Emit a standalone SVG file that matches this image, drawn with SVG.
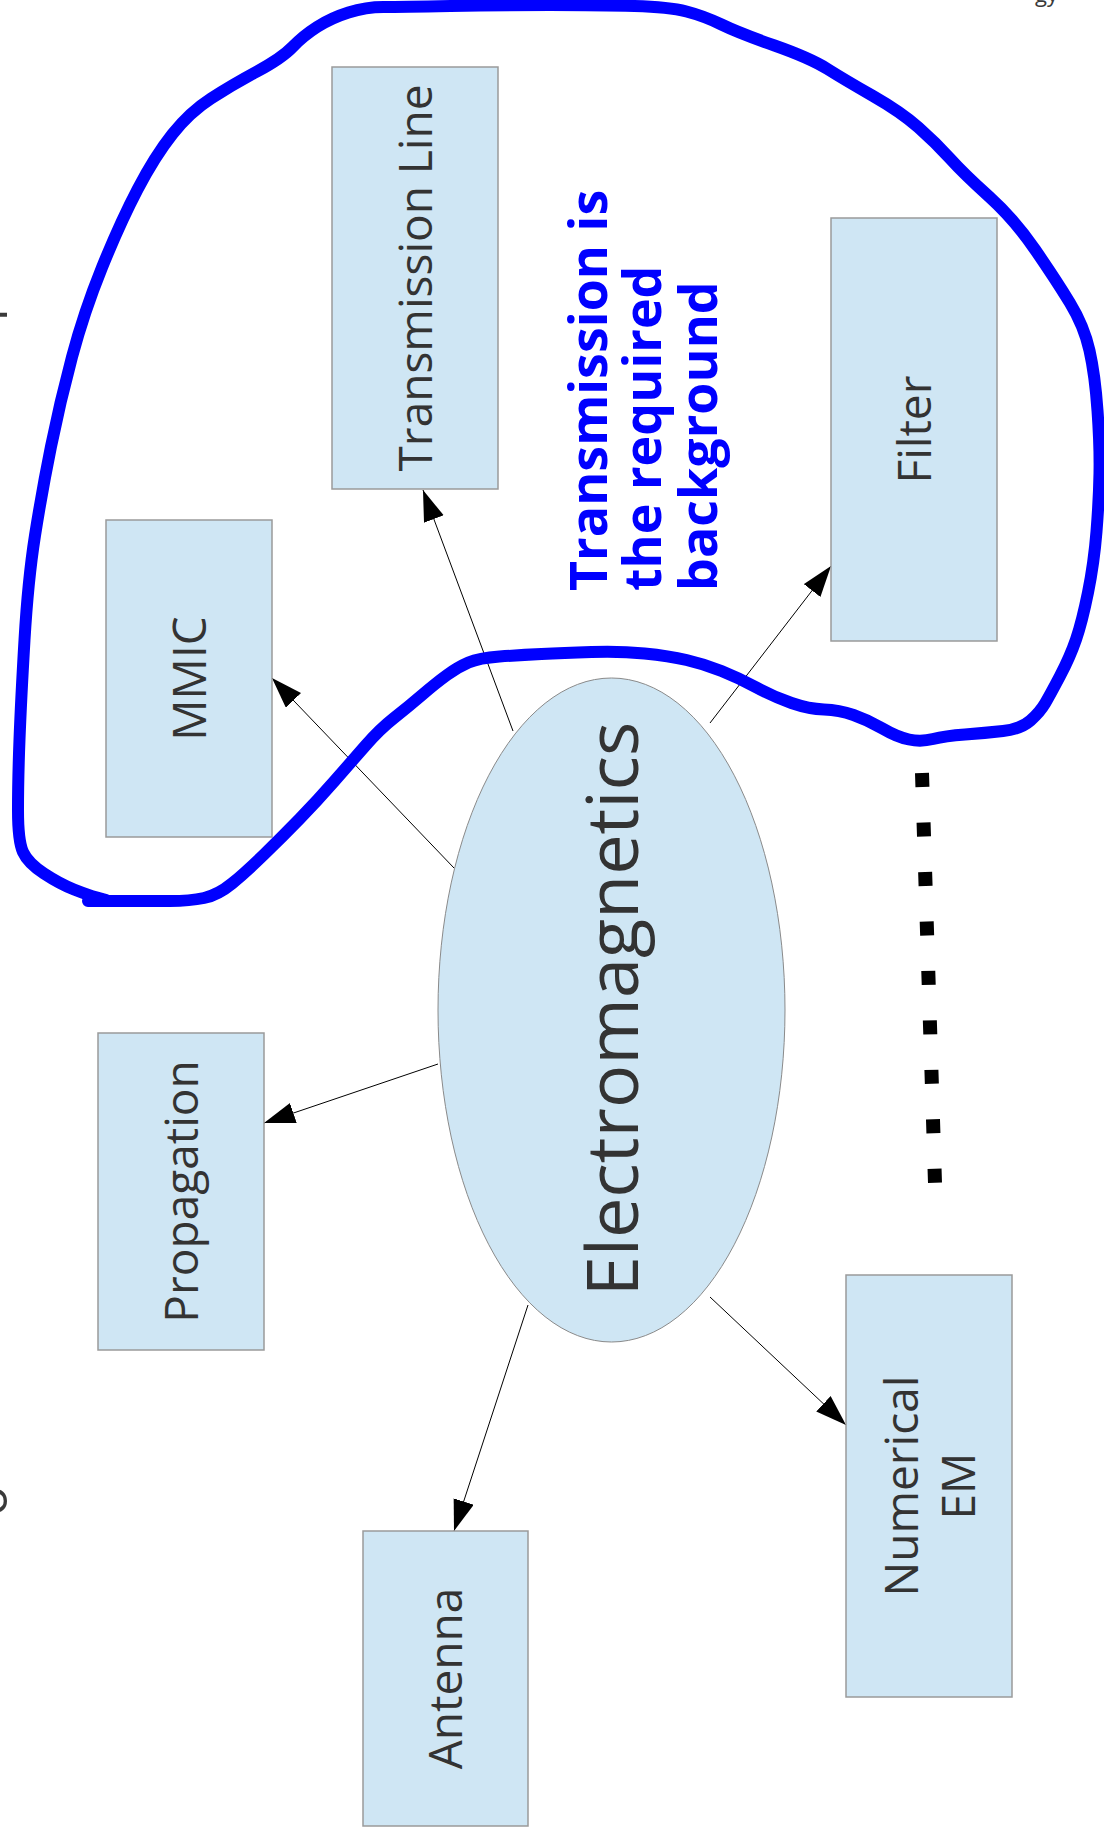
<svg xmlns="http://www.w3.org/2000/svg" width="1104" height="1839" viewBox="0 0 1104 1839">
<defs>
<style>
.box{fill:#cfe6f4;stroke:#9a9a9a;stroke-width:1.5}
.lbl{font-family:"Open Sans","DejaVu Sans",sans-serif;font-size:46px;fill:#333333;text-anchor:middle}
.big{font-family:"Open Sans","DejaVu Sans",sans-serif;font-size:72px;fill:#333333;text-anchor:middle}
.note{font-family:"Open Sans","DejaVu Sans",sans-serif;font-size:52px;font-weight:bold;fill:#0000ff}
.frag{font-family:"Open Sans","DejaVu Sans",sans-serif;fill:#3a3a3a}
.edge{stroke:#000;stroke-width:1;fill:none;marker-end:url(#arr)}
</style>
<marker id="arr" markerUnits="userSpaceOnUse" markerWidth="32" markerHeight="22" refX="31" refY="10.5" orient="auto">
<path d="M0,0 L31,10.5 L0,21 z" fill="#000"/>
</marker>
</defs>
<rect width="1104" height="1839" fill="#fff"/>

<g id="fragments">
<text class="frag" font-size="22" x="1035" y="2">gy</text>
<text class="frag" font-size="50" transform="translate(7,321) rotate(-90)">l</text>
<text class="frag" font-size="50" transform="translate(7,1516) rotate(-90)">o</text>
</g>

<g id="connectors">
<line class="edge" x1="454" y1="868" x2="272" y2="678"/>
<line class="edge" x1="513" y1="731" x2="423" y2="490"/>
<line class="edge" x1="710" y1="723" x2="831" y2="566"/>
<line class="edge" x1="438" y1="1064" x2="264" y2="1123"/>
<line class="edge" x1="528" y1="1305" x2="454" y2="1531"/>
<line class="edge" x1="710" y1="1297" x2="846" y2="1425"/>
</g>

<g id="electromagnetics">
<ellipse cx="611.5" cy="1010" rx="173.5" ry="332" fill="#cfe6f4" stroke="#8a8a8a" stroke-width="1"/>
<text class="big" transform="translate(638,1009) rotate(-90)">Electromagnetics</text>
</g>

<g id="mmic">
<rect class="box" x="106" y="520" width="166" height="317"/>
<text class="lbl" transform="translate(205.5,678.5) rotate(-90)">MMIC</text>
</g>

<g id="transmission-line">
<rect class="box" x="332" y="67" width="166" height="422"/>
<text class="lbl" transform="translate(431.5,278) rotate(-90)">Transmission Line</text>
</g>

<g id="filter">
<rect class="box" x="831" y="218" width="166" height="423"/>
<text class="lbl" transform="translate(930.5,429.5) rotate(-90)">Filter</text>
</g>

<g id="propagation">
<rect class="box" x="98" y="1033" width="166" height="317"/>
<text class="lbl" transform="translate(197.5,1191.5) rotate(-90)">Propagation</text>
</g>

<g id="antenna">
<rect class="box" x="363" y="1531" width="165" height="295"/>
<text class="lbl" transform="translate(462,1678.5) rotate(-90)">Antenna</text>
</g>

<g id="numerical-em">
<rect class="box" x="846" y="1275" width="166" height="422"/>
<text class="lbl" transform="translate(918,1486) rotate(-90)">Numerical</text>
<text class="lbl" transform="translate(975,1486) rotate(-90)">EM</text>
</g>

<g id="note">
<text class="note" transform="translate(607,591) rotate(-90)">Transmission is</text>
<text class="note" transform="translate(661,591) rotate(-90)">the required</text>
<text class="note" transform="translate(717,591) rotate(-90)">background</text>
</g>

<g id="dots">
<line x1="922" y1="773" x2="935" y2="1183" stroke="#000" stroke-width="14" stroke-dasharray="14 35.5"/>
</g>

<g id="outline">
<path fill="none" stroke="#0000ff" stroke-width="12" stroke-linejoin="round" stroke-linecap="round" d="M88,901 L170,901 Q190,901 204,898 Q218,895 232,883.5 Q246,872 264,854.5 Q282,837 299.5,819 Q317,801 334.5,781 Q352,761 366,745 Q380,729 394,718 Q408,707 422,695 Q436,683 447,675 Q458,667 468.5,662.5 Q479,658 499.5,656.5 Q520,655 541.5,654 Q563,653 591.5,652 Q620,651 644.5,653.5 Q669,656 686.5,660 Q704,664 721.5,671 Q739,678 756.5,687.5 Q774,697 791.5,703 Q809,709 824,709.5 Q839,710 853.5,715 Q868,720 882.5,728.5 Q897,737 909,739.5 Q921,742 933,739 Q945,736 965,734.5 Q985,733 1003,731 Q1021,729 1030.5,720.5 Q1040,712 1045,703.5 Q1050,695 1060,676 Q1070,657 1076,639.5 Q1082,622 1088,592.5 Q1094,563 1096.5,531.5 Q1099,500 1099.5,473 Q1100,446 1097.5,410.5 Q1095,375 1089.5,350.5 Q1084,326 1070,303 Q1056,280 1035,249.5 Q1014,219 989,196.5 Q964,174 950,158.5 Q936,143 918.5,127.5 Q901,112 873,96 Q845,80 827.5,69 Q810,58 774.5,45.5 Q739,33 721.5,24.5 Q704,16 686.5,11.5 Q669,7 634.5,6 Q600,5 550,5 Q500,5 450.5,6 Q401,7 383.5,7 Q366,7 348.5,12.5 Q331,18 317,27 Q303,36 292.5,47 Q282,58 257,71.5 Q232,85 211,98.5 Q190,112 172.5,134 Q155,156 137.5,189.5 Q120,223 102,267.5 Q84,312 72,357 Q60,402 51,446.5 Q42,491 35,535.5 Q28,580 24.5,640 Q21,700 19.5,739.5 Q18,779 18,810 Q18,841 23,852 Q28,863 44,873.5 Q60,884 74,889.5 Q88,895 97,897.5 L106,900"/>
</g>
</svg>
